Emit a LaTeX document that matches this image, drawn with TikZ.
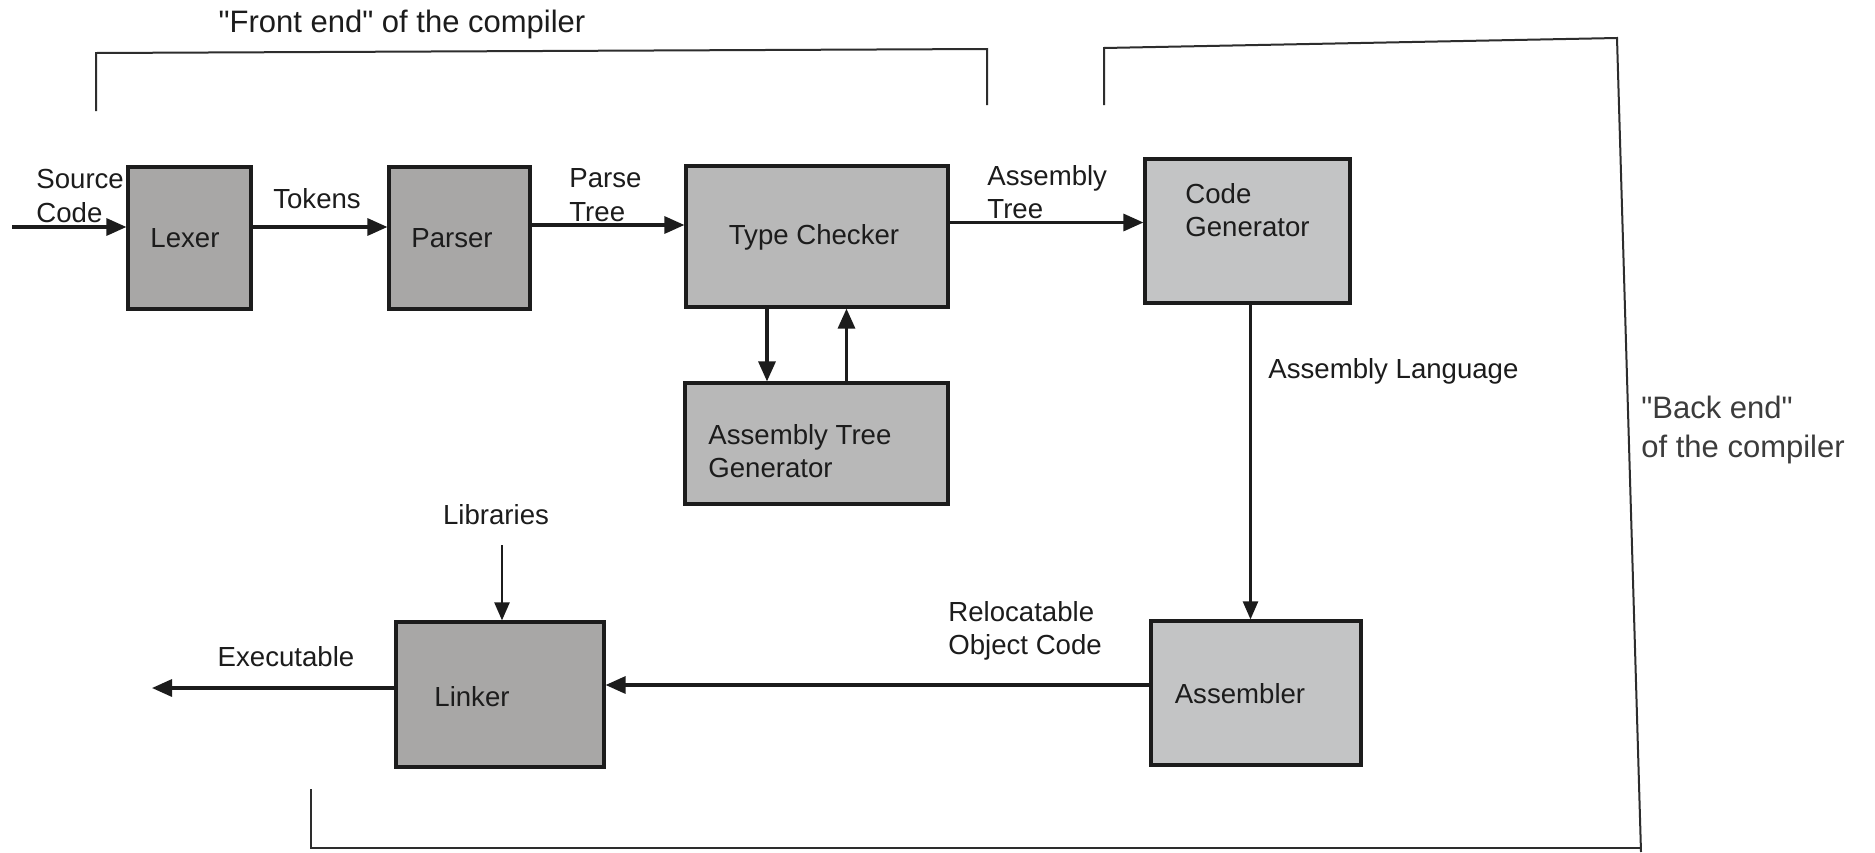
\documentclass[tikz,border=0pt]{standalone}
\usepackage{fontspec}
\setmainfont{Liberation Sans}
\usetikzlibrary{arrows.meta,calc}
\definecolor{ink}{RGB}{28,28,28}
\definecolor{frame}{RGB}{45,45,45}
\definecolor{note}{RGB}{60,60,60}
\definecolor{darkbox}{RGB}{168,167,166}
\definecolor{midbox}{RGB}{184,184,184}
\definecolor{lightbox}{RGB}{195,196,197}
\begin{document}
\begin{tikzpicture}[x=0.5pt,y=-0.5pt,
  stage/.style={draw=ink, line width=1.6pt, inner sep=0pt, rectangle},
  txt/.style={inner sep=0pt, text=ink, font=\fontsize{13.8}{16.8}\selectfont},
  big/.style={inner sep=0pt, font=\fontsize{15.5}{19.5}\selectfont},
  arr/.style={draw=ink, line width=1.6pt, -{Triangle[length=10pt,width=8.5pt]}},
  thinarr/.style={draw=ink, line width=1.2pt, -{Triangle[length=9pt,width=7.5pt]}},
  bracket/.style={draw=frame, line width=1pt}]
\useasboundingbox (0,0) rectangle (1875,852);
\fill[white] (0,0) rectangle (1875,852);

% stages
\node[stage, fill=darkbox, minimum width=61.5pt, minimum height=71pt] (lexer) at (189.5,238) {};
\node[stage, fill=darkbox, minimum width=70.5pt, minimum height=71pt] (parser) at (459.5,238) {};
\node[stage, fill=midbox, minimum width=131pt, minimum height=70.5pt] (tc) at (817,236.5) {};
\node[stage, fill=lightbox, minimum width=102.5pt, minimum height=72pt] (cg) at (1247.5,231) {};
\node[stage, fill=midbox, minimum width=131.5pt, minimum height=60.5pt] (atg) at (816.5,443.5) {};
\node[stage, fill=darkbox, minimum width=104pt, minimum height=72.5pt] (lnk) at (500,694.5) {};
\node[stage, fill=lightbox, minimum width=105pt, minimum height=72pt] (asm) at (1256,693) {};

% stage names
\node[txt] (lexer-t) at (185,238) {Lexer};
\node[txt] (parser-t) at (452,238) {Parser};
\node[txt] (tc-t) at (814,237) {Type Checker};
\node[txt, align=left, anchor=west] (cg-t) at (1185,210) {Code\\Generator};
\node[txt, align=left, anchor=west] (atg-t) at (708,451) {Assembly Tree\\Generator};
\node[txt] (lnk-t) at (472,697) {Linker};
\node[txt] (asm-t) at (1240,694) {Assembler};

% data labels
\node[txt, align=left, anchor=west] (src-t) at (36,196) {Source\\Code};
\node[txt] (tok-t) at (317,199) {Tokens};
\node[txt, align=left, anchor=west] (pt-t) at (569,195) {Parse\\Tree};
\node[txt, align=left, anchor=west] (at-t) at (987,192) {Assembly\\Tree};
\node[txt, anchor=west] (al-t) at (1268,371) {Assembly Language};
\node[txt] (lib-t) at (496,515) {Libraries};
\node[txt, align=left, anchor=west] (roc-t) at (948,631) {Relocatable\\Object Code};
\node[txt] (exe-t) at (286,657) {Executable};

% connectors
\coordinate (src) at (12,227);
\coordinate (exe) at (152,688);
\coordinate (lib) at (502,545);
\draw[arr] (src) -- (src -| lexer.west);
\draw[arr] (src -| lexer.east) -- (src -| parser.west);
\draw[arr] ([yshift=6.5pt]parser.east) -- ([yshift=6.5pt]parser.east -| tc.west);
\draw[arr] ([yshift=7pt]tc.east) -- ([yshift=7pt]tc.east -| cg.west);
\draw[arr] ([xshift=-25pt]tc.south) -- ([xshift=-25pt]tc.south |- atg.north);
\draw[arr] ([xshift=15pt]atg.north) -- ([xshift=15pt]atg.north |- tc.south);
\draw[thinarr] ([xshift=1.5pt]cg.south) -- ([xshift=1.5pt]cg.south |- asm.north);
\draw[arr] ([yshift=4pt]asm.west) -- ([yshift=4pt]asm.west -| lnk.east);
\draw[arr] (exe -| lnk.west) -- (exe);
\draw[thinarr] (lib) -- (lib |- lnk.north);

% front end / back end brackets
\draw[bracket] (96,111) -- (96,53) -- (987,49) -- (987,105);
\draw[bracket] (1104,105) -- (1104,48) -- (1617,38) -- (1641,852);
\draw[bracket] (311,789) -- (311,848) -- (1641,848);
\node[big, text=ink] (fe-t) at (402,24) {\textquotedbl Front end\textquotedbl{} of the compiler};
\node[big, text=note, align=left, anchor=west] (be-t) at (1641,430) {\textquotedbl Back end\textquotedbl\\of the compiler};
\end{tikzpicture}
\end{document}
